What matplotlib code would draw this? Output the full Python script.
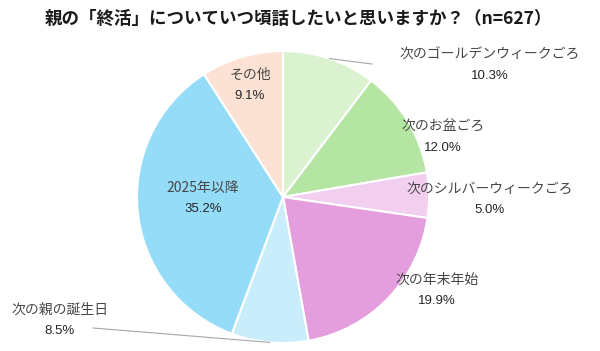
import numpy as np
import matplotlib
matplotlib.use("Agg")
import matplotlib.pyplot as plt

plt.rcParams['font.family'] = ['Noto Sans CJK JP', 'DejaVu Sans']

# data (clockwise from 12 o'clock)
categories = ['次のゴールデンウィークごろ', '次のお盆ごろ', '次のシルバーウィークごろ',
              '次の年末年始', '次の親の誕生日', '2025年以降', 'その他']
shares = [10.3, 12.0, 5.0, 19.9, 8.5, 35.2, 9.1]
title = '親の「終活」についていつ頃話したいと思いますか？（n=627）'

colors = ['#DAF2D0', '#B4E5A2', '#F2CEEF', '#E49EDD', '#CAEDFB', '#94DCF8', '#FBE2D5']

W, H = 600, 351
CX, CY, R = 283, 197, 146

fig = plt.figure(figsize=(6, 3.51), dpi=100)
ax = fig.add_axes([(CX - R) / W, (H - CY - R) / H, 2 * R / W, 2 * R / H])
wedges, _ = ax.pie(shares, colors=colors, startangle=90, counterclock=False,
                   radius=1, wedgeprops=dict(edgecolor='white', linewidth=1.5))
ax.set_xlim(-1, 1)
ax.set_ylim(-1, 1)
ax.set_aspect('equal')
ax.axis('off')


def px(x, y):
    # pixel position (from top-left) -> axes data coords
    return (x - CX) / R, (CY - y) / R


# label layout: (name center x, name center y) in pixels, leader line end or None
label_pos = [(490, 55, (372, 64)), (443, 127, None), (490, 189, None),
             (437, 280, None), (60, 310, (93, 328)), (203, 188, None),
             (250, 75, None)]

for w, name, val, (lx, ly, lead) in zip(wedges, categories, shares, label_pos):
    x, y = px(lx, ly)
    ax.text(x, y, name, ha='center', va='center', fontsize=10, color='#474747')
    x2, y2 = px(lx, ly + 21)
    ax.text(x2, y2, f'{val:.1f}%', ha='center', va='center', fontsize=9.5,
            color='#262626', family=['Liberation Sans', 'DejaVu Sans'])
    if lead is not None:
        ang = np.deg2rad((w.theta1 + w.theta2) / 2)
        ex, ey = px(*lead)
        ax.plot([np.cos(ang), ex], [np.sin(ang), ey], color='#A6A6A6', lw=0.8,
                clip_on=False)

fig.text(0.497, 1 - 19 / H, title, ha='center', va='center', fontsize=12.6,
         fontweight='bold', color='#1a1a1a')

fig.savefig('out.png', dpi=100)
